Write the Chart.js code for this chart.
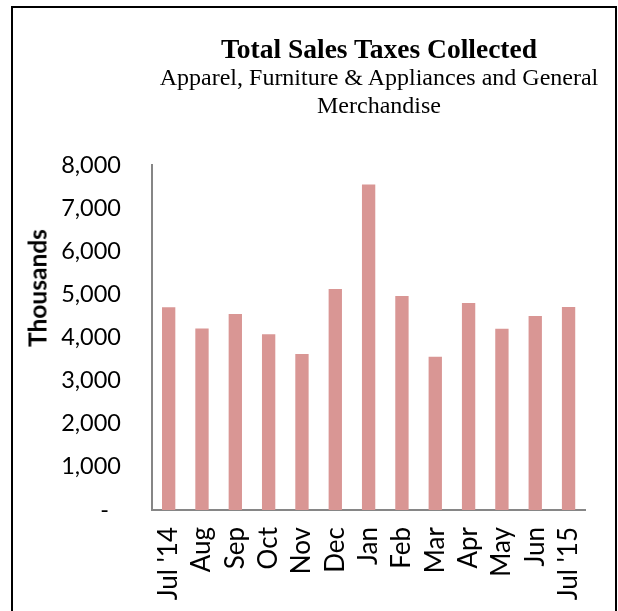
<!DOCTYPE html>
<html>
<head>
<meta charset="utf-8">
<script src="https://cdn.jsdelivr.net/npm/chart.js@4.4.1/dist/chart.umd.min.js"></script>
<style>
    body { margin: 0; background: #fff; overflow: hidden; }
    #frame { position: absolute; left: 11px; top: 6px; width: 602px; height: 700px; border: 2px solid #000; }
    #chart { position: absolute; left: 0; top: 0; }
    .titre { position: absolute; left: 79px; width: 600px; text-align: center; font-family: "Liberation Serif", "Times New Roman", serif; color: #000; white-space: nowrap; }
    #titre { top: 35px; font-size: 27.5px; line-height: 28px; font-weight: bold; }
    #sousTitre { top: 63px; font-size: 24px; line-height: 28px; }
    #axeY { position: absolute; left: 37px; top: 288px; transform: translate(-50%, -50%) rotate(-90deg); font-family: Lato, sans-serif; font-weight: bold; font-size: 24.5px; color: #000; white-space: nowrap; }
</style>
</head>
<body>
<div id="frame"></div>
<canvas id="chart" width="618" height="611"></canvas>
<div class="titre" id="titre">Total Sales Taxes Collected</div>
<div class="titre" id="sousTitre">Apparel, Furniture &amp; Appliances and General<br>Merchandise</div>
<div id="axeY">Thousands</div>
<script>
const mois = ["Jul '14", "Aug", "Sep", "Oct", "Nov", "Dec", "Jan", "Feb", "Mar", "Apr", "May", "Jun", "Jul '15"];
const taxes = [4700, 4210, 4545, 4075, 3620, 5125, 7545, 4960, 3555, 4800, 4205, 4500, 4705];
const tickMax = 8000;
const tickPas = 1000;

document.addEventListener("DOMContentLoaded", () => {
    const grafico = document.getElementById("chart");

    new Chart(grafico, {
        type: "bar",
        data: {
            labels: mois,
            datasets: [{
                data: taxes,
                backgroundColor: "#d99694",
                borderWidth: 0,
                barPercentage: 0.4,
                categoryPercentage: 1
            }]
        },
        options: {
            responsive: false,
            animation: false,
            devicePixelRatio: 1,
            layout: { padding: { left: 0, right: 32, top: 165, bottom: 0 } },
            plugins: {
                legend: { display: false },
                tooltip: { enabled: false }
            },
            scales: {
                x: {
                    grid: { display: false, drawTicks: false },
                    border: { display: true, color: "#868686", width: 2 },
                    ticks: {
                        color: "#000",
                        font: { family: "Lato", size: 26 },
                        minRotation: 90,
                        maxRotation: 90,
                        autoSkip: false,
                        padding: 17
                    },
                    afterFit: (scale) => { scale.height = 101; }
                },
                y: {
                    min: 0,
                    max: tickMax,
                    grid: { display: false, drawTicks: false },
                    border: { display: true, color: "#868686", width: 2 },
                    ticks: {
                        stepSize: tickPas,
                        color: "#000",
                        font: { family: "Lato", size: 23.5 },
                        padding: 31,
                        callback: (v) => v === 0 ? "-  " : v.toLocaleString("en-US")
                    },
                    afterFit: (scale) => { scale.width = 152; }
                }
            }
        }
    });
});
</script>
</body>
</html>
